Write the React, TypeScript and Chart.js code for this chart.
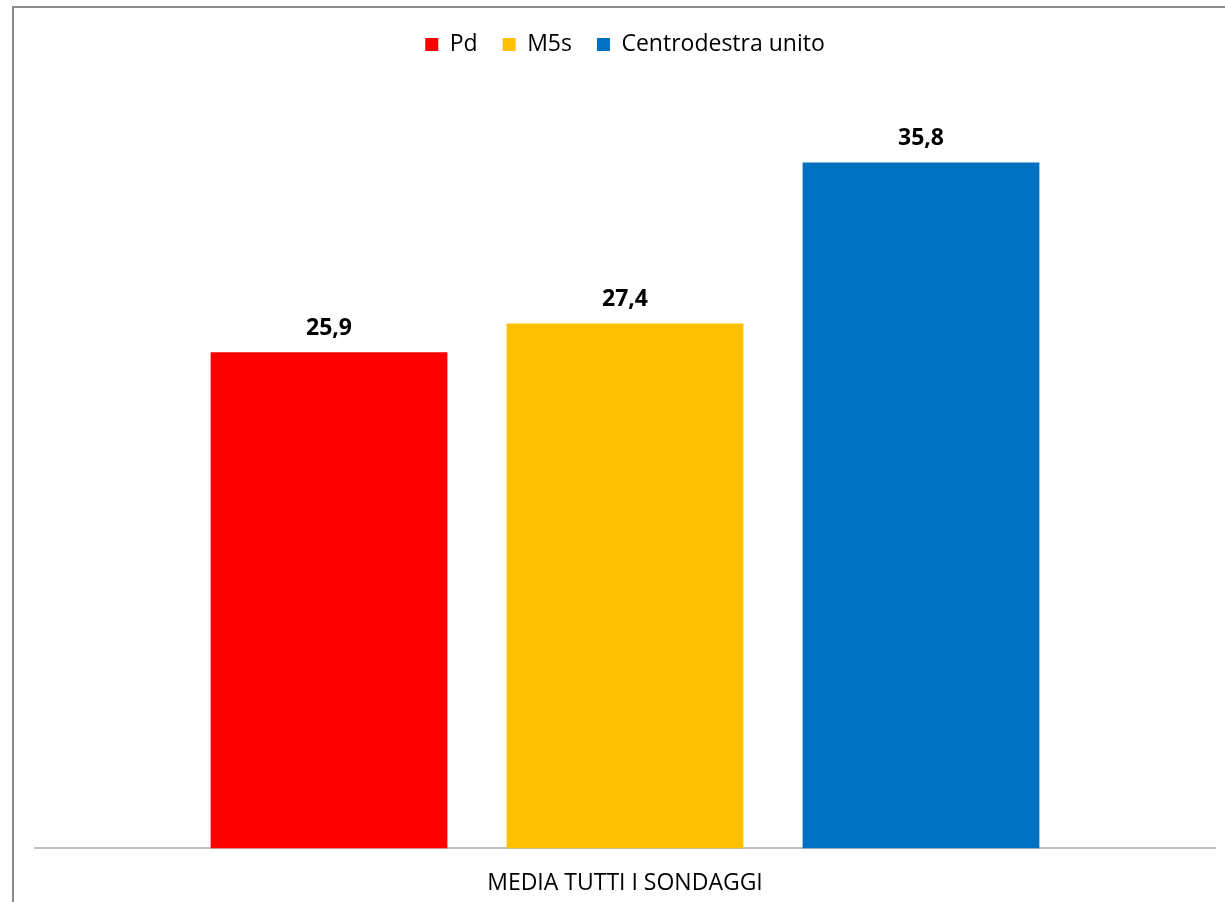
import React, { useEffect, useRef } from "react";
import { Chart, registerables } from "chart.js";

Chart.register(...registerables);

const categories = ["MEDIA TUTTI I SONDAGGI"];
const seriesNames = ["Pd", "M5s", "Centrodestra unito"];
const pdValues = [25.9];
const m5sValues = [27.4];
const cdxValues = [35.8];
const seriesColors = ["#FF0000", "#FFC000", "#0070C0"];

const FONT = "'Open Sans', 'Noto Sans', sans-serif";

const valueLabels = {
  id: "valueLabels",
  afterDatasetsDraw(chart: any) {
    const ctx = chart.ctx;
    ctx.save();
    ctx.font = `bold 23px ${FONT}`;
    ctx.fillStyle = "#000000";
    ctx.textAlign = "center";
    ctx.textBaseline = "middle";
    chart.data.datasets.forEach((ds: any, i: number) => {
      const meta = chart.getDatasetMeta(i);
      meta.data.forEach((el: any, j: number) => {
        const v = ds.data[j] as number;
        ctx.fillText(v.toFixed(1).replace(".", ","), el.x, el.y - 24);
      });
    });
    ctx.restore();
  },
};

const legendMargin = {
  id: "legendMargin",
  beforeInit(chart: any) {
    const orig = chart.legend.fit;
    chart.legend.fit = function fit() {
      orig.bind(chart.legend)();
      this.height += 16;
    };
  },
};

export default function App() {
  const ref = useRef<HTMLCanvasElement | null>(null);
  useEffect(() => {
    if (!ref.current) return;
    const chart = new Chart(ref.current, {
      type: "bar",
      data: {
        labels: categories,
        datasets: [
          { label: seriesNames[0], data: pdValues, backgroundColor: seriesColors[0] },
          { label: seriesNames[1], data: m5sValues, backgroundColor: seriesColors[1] },
          { label: seriesNames[2], data: cdxValues, backgroundColor: seriesColors[2] },
        ],
      },
      options: {
        animation: false,
        responsive: false,
        maintainAspectRatio: false,
        layout: { padding: { top: 8, left: 35, right: 10, bottom: -16 } },
        datasets: { bar: { categoryPercentage: 0.7525, barPercentage: 0.8 } },
        plugins: {
          legend: {
            position: "top",
            labels: {
              boxWidth: 13,
              boxHeight: 13,
              padding: 25,
              color: "#000000",
              font: { family: FONT, size: 23 },
            },
          },
          tooltip: { enabled: false },
        },
        scales: {
          x: {
            grid: { display: false, drawTicks: false },
            border: { display: true, color: "#BFBFBF", width: 2 },
            ticks: { color: "#000000", padding: 21, font: { family: FONT, size: 23 } },
          },
          y: {
            display: false,
            min: 0,
            max: 40,
          },
        },
      },
      plugins: [legendMargin, valueLabels],
    });
    return () => chart.destroy();
  }, []);
  return (
    <div style={{ position: "fixed", left: 0, top: 0, width: 1225, height: 902, background: "#fff" }}>
      <canvas ref={ref} width={1225} height={902} style={{ position: "absolute", left: 0, top: 0, width: 1225, height: 902 }} />
      <div
        style={{
          position: "absolute",
          left: 12,
          top: 6,
          width: 1225,
          height: 902,
          borderLeft: "2px solid #8C8C8C",
          borderTop: "2px solid #8C8C8C",
          pointerEvents: "none",
        }}
      />
    </div>
  );
}
